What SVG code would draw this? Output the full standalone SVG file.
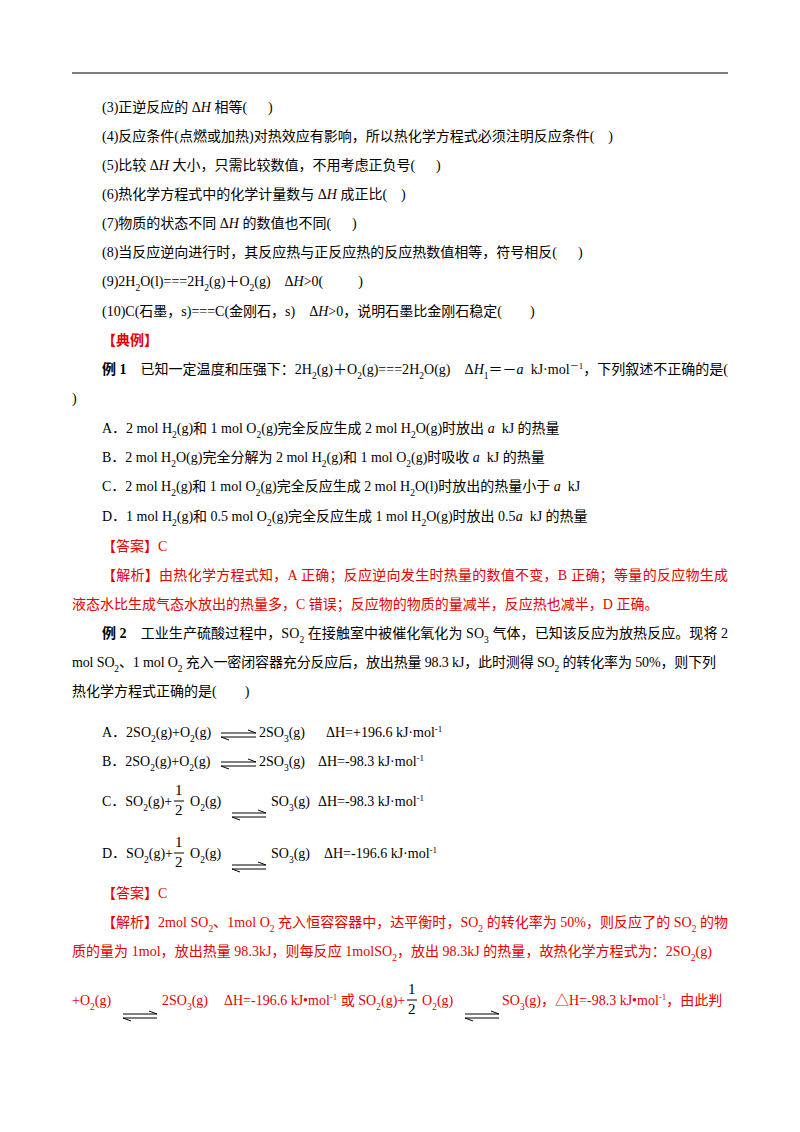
<svg xmlns="http://www.w3.org/2000/svg" width="800" height="1132" viewBox="0 0 800 1132" xml:space="preserve">
<style>
text{font-family:"Liberation Serif","Noto Sans CJK SC",serif;font-size:14px;fill:#000;white-space:pre}
.r{fill:#e60000}
.b{font-weight:bold}
.s{font-size:9.5px;baseline-shift:sub}
.p{font-size:9px;baseline-shift:super}
.i{font-style:italic}
.f{font-size:15px}
.eq{stroke:#000;stroke-width:1;fill:none}
</style>
<rect width="800" height="1132" fill="#fff"/>
<line x1="72" y1="73" x2="728" y2="73" stroke="#000" stroke-width="1.2"/>
<text x="102" y="112">(3)正逆反应的 Δ<tspan class="i">H</tspan> 相等(      )</text>
<text x="102" y="141">(4)反应条件(点燃或加热)对热效应有影响，所以热化学方程式必须注明反应条件(    )</text>
<text x="102" y="170">(5)比较 Δ<tspan class="i">H</tspan> 大小，只需比较数值，不用考虑正负号(      )</text>
<text x="102" y="199">(6)热化学方程式中的化学计量数与 Δ<tspan class="i">H</tspan> 成正比(    )</text>
<text x="102" y="228">(7)物质的状态不同 Δ<tspan class="i">H</tspan> 的数值也不同(      )</text>
<text x="102" y="257">(8)当反应逆向进行时，其反应热与正反应热的反应热数值相等，符号相反(      )</text>
<text x="102" y="286">(9)2H<tspan class="s">2</tspan>O(l)===2H<tspan class="s">2</tspan>(g)＋O<tspan class="s">2</tspan>(g)    Δ<tspan class="i">H</tspan>&gt;0(          )</text>
<text x="102" y="316">(10)C(石墨，s)===C(金刚石，s)    Δ<tspan class="i">H</tspan>&gt;0，说明石墨比金刚石稳定(        )</text>
<text x="102" y="345" class="r b">【典例】</text>
<text x="102" y="374" textLength="626" lengthAdjust="spacing"><tspan class="b">例 1</tspan>　已知一定温度和压强下：2H<tspan class="s">2</tspan>(g)＋O<tspan class="s">2</tspan>(g)===2H<tspan class="s">2</tspan>O(g)    Δ<tspan class="i">H</tspan><tspan class="s">1</tspan>＝－<tspan class="i">a</tspan>  kJ·mol<tspan class="p">－1</tspan>，下列叙述不正确的是(</text>
<text x="72" y="403">)</text>
<text x="102" y="433">A．2 mol H<tspan class="s">2</tspan>(g)和 1 mol O<tspan class="s">2</tspan>(g)完全反应生成 2 mol H<tspan class="s">2</tspan>O(g)时放出 <tspan class="i">a</tspan>  kJ 的热量</text>
<text x="102" y="462">B．2 mol H<tspan class="s">2</tspan>O(g)完全分解为 2 mol H<tspan class="s">2</tspan>(g)和 1 mol O<tspan class="s">2</tspan>(g)时吸收 <tspan class="i">a</tspan>  kJ 的热量</text>
<text x="102" y="491">C．2 mol H<tspan class="s">2</tspan>(g)和 1 mol O<tspan class="s">2</tspan>(g)完全反应生成 2 mol H<tspan class="s">2</tspan>O(l)时放出的热量小于 <tspan class="i">a</tspan>  kJ</text>
<text x="102" y="521">D．1 mol H<tspan class="s">2</tspan>(g)和 0.5 mol O<tspan class="s">2</tspan>(g)完全反应生成 1 mol H<tspan class="s">2</tspan>O(g)时放出 0.5<tspan class="i">a</tspan>  kJ 的热量</text>
<text x="102" y="551" class="r">【答案】C</text>
<text x="102" y="580" class="r" textLength="626" lengthAdjust="spacing">【解析】由热化学方程式知，A 正确；反应逆向发生时热量的数值不变，B 正确；等量的反应物生成</text>
<text x="72" y="609" class="r">液态水比生成气态水放出的热量多，C 错误；反应物的物质的量减半，反应热也减半，D 正确。</text>
<text x="102" y="638" textLength="626" lengthAdjust="spacing"><tspan class="b">例 2</tspan>　工业生产硫酸过程中，SO<tspan class="s">2</tspan> 在接触室中被催化氧化为 SO<tspan class="s">3</tspan> 气体，已知该反应为放热反应。现将 2</text>
<text x="72" y="667" textLength="644" lengthAdjust="spacing">mol SO<tspan class="s">2</tspan>、1 mol O<tspan class="s">2</tspan> 充入一密闭容器充分反应后，放出热量 98.3 kJ，此时测得 SO<tspan class="s">2</tspan> 的转化率为 50%，则下列</text>
<text x="72" y="696">热化学方程式正确的是(        )</text>
<text x="102" y="737">A．2SO<tspan class="s">2</tspan>(g)+O<tspan class="s">2</tspan>(g)</text>
<text x="259" y="737">2SO<tspan class="s">3</tspan>(g)</text>
<text x="326" y="737">ΔH=+196.6 kJ·mol<tspan class="p">-1</tspan></text>
<text x="102" y="766">B．2SO<tspan class="s">2</tspan>(g)+O<tspan class="s">2</tspan>(g)</text>
<text x="259" y="766">2SO<tspan class="s">3</tspan>(g)</text>
<text x="318" y="766">ΔH=-98.3 kJ·mol<tspan class="p">-1</tspan></text>
<text x="102" y="806">C．SO<tspan class="s">2</tspan>(g)+</text>
<text x="175" y="795" class="f">1</text><line x1="174" y1="801" x2="184" y2="801" stroke="#000"/><text x="175" y="815" class="f">2</text>
<text x="190" y="806">O<tspan class="s">2</tspan>(g)</text>
<text x="271" y="806">SO<tspan class="s">3</tspan>(g)</text>
<text x="318" y="806">ΔH=-98.3 kJ·mol<tspan class="p">-1</tspan></text>
<text x="102" y="858">D．SO<tspan class="s">2</tspan>(g)+</text>
<text x="175" y="847" class="f">1</text><line x1="174" y1="853" x2="184" y2="853" stroke="#000"/><text x="175" y="867" class="f">2</text>
<text x="190" y="858">O<tspan class="s">2</tspan>(g)</text>
<text x="271" y="858">SO<tspan class="s">3</tspan>(g)</text>
<text x="324" y="858">ΔH=-196.6 kJ·mol<tspan class="p">-1</tspan></text>
<text x="102" y="898" class="r">【答案】C</text>
<text x="102" y="927" class="r" textLength="626" lengthAdjust="spacing">【解析】2mol SO<tspan class="s">2</tspan>、1mol O<tspan class="s">2</tspan> 充入恒容容器中，达平衡时，SO<tspan class="s">2</tspan> 的转化率为 50%，则反应了的 SO<tspan class="s">2</tspan> 的物</text>
<text x="72" y="956" class="r" textLength="640" lengthAdjust="spacing">质的量为 1mol，放出热量 98.3kJ，则每反应 1molSO<tspan class="s">2</tspan>，放出 98.3kJ 的热量，故热化学方程式为：2SO<tspan class="s">2</tspan>(g)</text>
<text x="72" y="1005" class="r">+O<tspan class="s">2</tspan>(g)</text>
<text x="162" y="1005" class="r">2SO<tspan class="s">3</tspan>(g)</text>
<text x="224" y="1005" class="r">ΔH=-196.6 kJ•mol<tspan class="p">-1</tspan> 或 SO<tspan class="s">2</tspan>(g)+</text>
<text x="408" y="994" class="f">1</text><line x1="407" y1="1000" x2="417" y2="1000" stroke="#000"/><text x="408" y="1014" class="f">2</text>
<text x="422" y="1005" class="r">O<tspan class="s">2</tspan>(g)</text>
<text x="502" y="1005" class="r">SO<tspan class="s">3</tspan>(g)，△H=-98.3 kJ•mol<tspan class="p">-1</tspan>，由此判</text>
<g id="arrows">
<path class="eq" d="M221 733H256L248 730M221 737H256M221 737L229 740"/>
<path class="eq" d="M221 762H256L248 759M221 766H256M221 766L229 769"/>
<path class="eq" d="M232 813H266L258 810M232 817H266M232 817L240 820"/>
<path class="eq" d="M232 865H266L258 862M232 869H266M232 869L240 872"/>
<path class="eq" d="M123 1014H157L149 1011M123 1018H157M123 1018L131 1021"/>
<path class="eq" d="M465 1014H499L491 1011M465 1018H499M465 1018L473 1021"/>
</g>
</svg>
